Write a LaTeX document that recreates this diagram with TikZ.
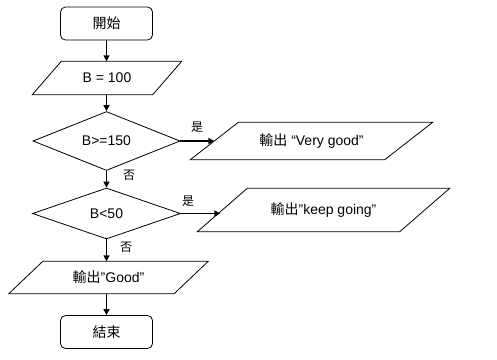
\documentclass[tikz,border=0pt]{standalone}
\usepackage{fontspec}
\setmainfont{Liberation Sans}
\newfontfamily\cjk{Noto Sans CJK TC}
\usetikzlibrary{shapes.geometric,arrows.meta,calc}
\tikzset{
  outline/.style={draw=black, line width=0.8pt},
  term/.style={outline, rounded corners=5pt, minimum width=92pt, minimum height=33pt, inner sep=0pt, font=\fontsize{14}{16}\selectfont},
  parabox/.style={inner sep=0pt, font=\fontsize{14}{16}\selectfont},
  decide/.style={outline, shape=diamond, inner sep=0pt, font=\fontsize{14}{16}\selectfont},
  arr/.style={line width=1.7pt, -{Triangle[length=6pt,width=6pt]}},
  lab/.style={font=\fontsize{12}{14}\selectfont, inner sep=0pt},
}
\newcommand\drawpara[2]{\draw[outline] ($(#1.north west)+(#2/2,0)$) -- ($(#1.north east)+(#2/2,0)$) -- ($(#1.south east)+(-#2/2,0)$) -- ($(#1.south west)+(-#2/2,0)$) -- cycle;}
\begin{document}
\begin{tikzpicture}[x=1pt,y=-1pt]
\useasboundingbox (0,0) rectangle (497,359);
\fill[white] (0,0) rectangle (497,359);
% nodes
\node[term] (start) at (106.5,23.5) {\cjk 開始};
\node[parabox, minimum width=120pt, minimum height=33pt] (p1) at (107,78) {B = 100};
\drawpara{p1}{29}
\node[decide, minimum width=147pt, minimum height=50pt] (d1) at (106.5,141) {B>=150};
\node[parabox, minimum width=194pt, minimum height=37pt] (p2) at (311.5,141) {{\cjk 輸出} “Very good"};
\drawpara{p2}{48}
\node[decide, minimum width=148pt, minimum height=51pt] (d2) at (106.5,213.5) {B<50};
\node[parabox, minimum width=202pt, minimum height=43pt] (p3) at (323.5,210) {{\cjk 輸出}”keep going"};
\drawpara{p3}{50}
\node[parabox, minimum width=165pt, minimum height=32pt] (p4) at (108.5,277.5) {{\cjk 輸出}”Good"};
\drawpara{p4}{34}
\node[term] (end) at (106.5,332) {\cjk 結束};
% connectors
\draw[arr] (start.south) -- (start.south |- p1.north);
\draw[arr] (p1.south -| d1.north) -- (d1.north);
\draw[arr] (d1.east) -- (d1.east -| p2.west);
\draw[arr] (d1.south) -- (d2.north);
\draw[arr] (d2.east) -- ($(d2.east -| p3.west)+(-2,0)$);
\draw[arr] (d2.south) -- (d2.south |- p4.north);
\draw[arr] (p4.south -| end.north) -- (end.north);
% labels
\node[lab] (y1) at (197,127) {\cjk 是};
\node[lab] (y2) at (188,201) {\cjk 是};
\node[lab] (n1) at (129,175) {\cjk 否};
\node[lab] (n2) at (126,247) {\cjk 否};
\end{tikzpicture}
\end{document}
